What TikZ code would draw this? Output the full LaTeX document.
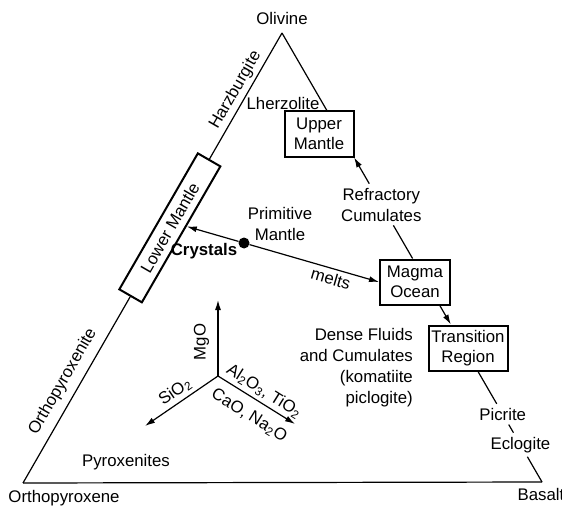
\documentclass[tikz,border=0pt]{standalone}
\usepackage{fontspec}
\setmainfont{Liberation Sans}
\usepackage{tikz}
\usetikzlibrary{arrows.meta,calc}

\begin{document}
\begin{tikzpicture}[x=1pt,y=-1pt,>={Latex[length=10pt,width=6pt]},font=\fontsize{16.8}{21}\selectfont,
 side/.style={line width=1.2pt},
 box/.style={draw,line width=2pt,minimum height=45pt,align=center,inner sep=2pt,font=\fontsize{16.8}{20}\selectfont},
 txt/.style={align=center,inner sep=4pt}]
\useasboundingbox (0,0) rectangle (562,508);
\coordinate (ol) at (282,33);
\coordinate (opx) at (23,483);
\coordinate (bas) at (542,482);
\node (olv) at (282,18) {Olivine};
\node (orx) at (64,498) {Orthopyroxene};
\node (bst) at (541,494) {Basalt};
\node[box,minimum width=157pt,minimum height=26pt,rotate=60] (lower) at ($(opx)!.567!(ol)$) {Lower Mantle};
\node[box,minimum width=69pt] (upper) at (319,134) {Upper\\Mantle};
\node[box,minimum width=70pt] (magma) at (415,282) {Magma\\Ocean};
\node[box,minimum width=79pt] (trans) at (468,348) {Transition\\Region};
\node[txt] (refr) at ($(ol)!.382!(bas)$) {Refractory\\Cumulates};
\node[txt] (pic) at ($(ol)!.849!(bas)$) {Picrite};
\node[txt] (ecl) at ($(ol)!.917!(bas)$) {Eclogite};
\node (lhz) at (283,103) {Lherzolite};
\node[txt] (prim) at (280,224) {Primitive\\Mantle};
\node[circle,fill,inner sep=0,minimum size=11pt] (pm) at (244,243) {};
\node[font=\fontsize{16.8}{21}\selectfont\bfseries] (cry) at (204,251) {Crystals};
\node[align=right,anchor=east,inner sep=0] (dense) at (413,368) {Dense Fluids\\and Cumulates\\(komatiite\\piclogite)};
\node (pyx) at (126,462) {Pyroxenites};
\draw[side] (opx) -- (bas);
\draw[side] (opx) -- node[sloped,above=4pt] (opxt) {Orthopyroxenite} (lower);
\draw[side] (lower) -- node[sloped,above] (hzb) {Harzburgite} (ol);
\draw[side] (ol) -- (intersection of ol--bas and upper.north west--upper.north east);
\draw[side,->] (refr) -- (intersection of ol--bas and upper.south west--upper.south east);
\draw[side] (refr) -- (intersection of ol--bas and magma.north west--magma.north east);
\draw[side,->] (intersection of ol--bas and magma.south west--magma.south east) -- (intersection of ol--bas and trans.north west--trans.north east);
\draw[side] (intersection of ol--bas and trans.south west--trans.south east) -- (pic);
\draw[side] (pic) -- (ecl);
\draw[side] (ecl) -- (bas);
\draw[side,->] (pm) -- node[sloped,below,pos=.65] (mlt) {melts} (magma.west);
\draw[side,->] (pm) -- (intersection of magma.west--pm and lower.south west--lower.south east);
\coordinate (c) at (218,376);
\coordinate (cm) at (218,300);
\coordinate (cs) at (145,426);
\coordinate (ca) at (295,424);
\draw[side,->] (c) -- node[sloped,above=5pt,pos=.45] (mgo) {MgO} (cm);
\draw[side,->] (c) -- node[sloped,above] (sio) {SiO\textsubscript{2}} (cs);
\draw[side,->] (c) -- node[sloped,above,pos=.52] (alo) {Al\textsubscript{2}O\textsubscript{3}, TiO\textsubscript{2}} node[sloped,below=6pt,pos=.52] (cao) {CaO, Na\textsubscript{2}O} (ca);
\end{tikzpicture}
\end{document}
